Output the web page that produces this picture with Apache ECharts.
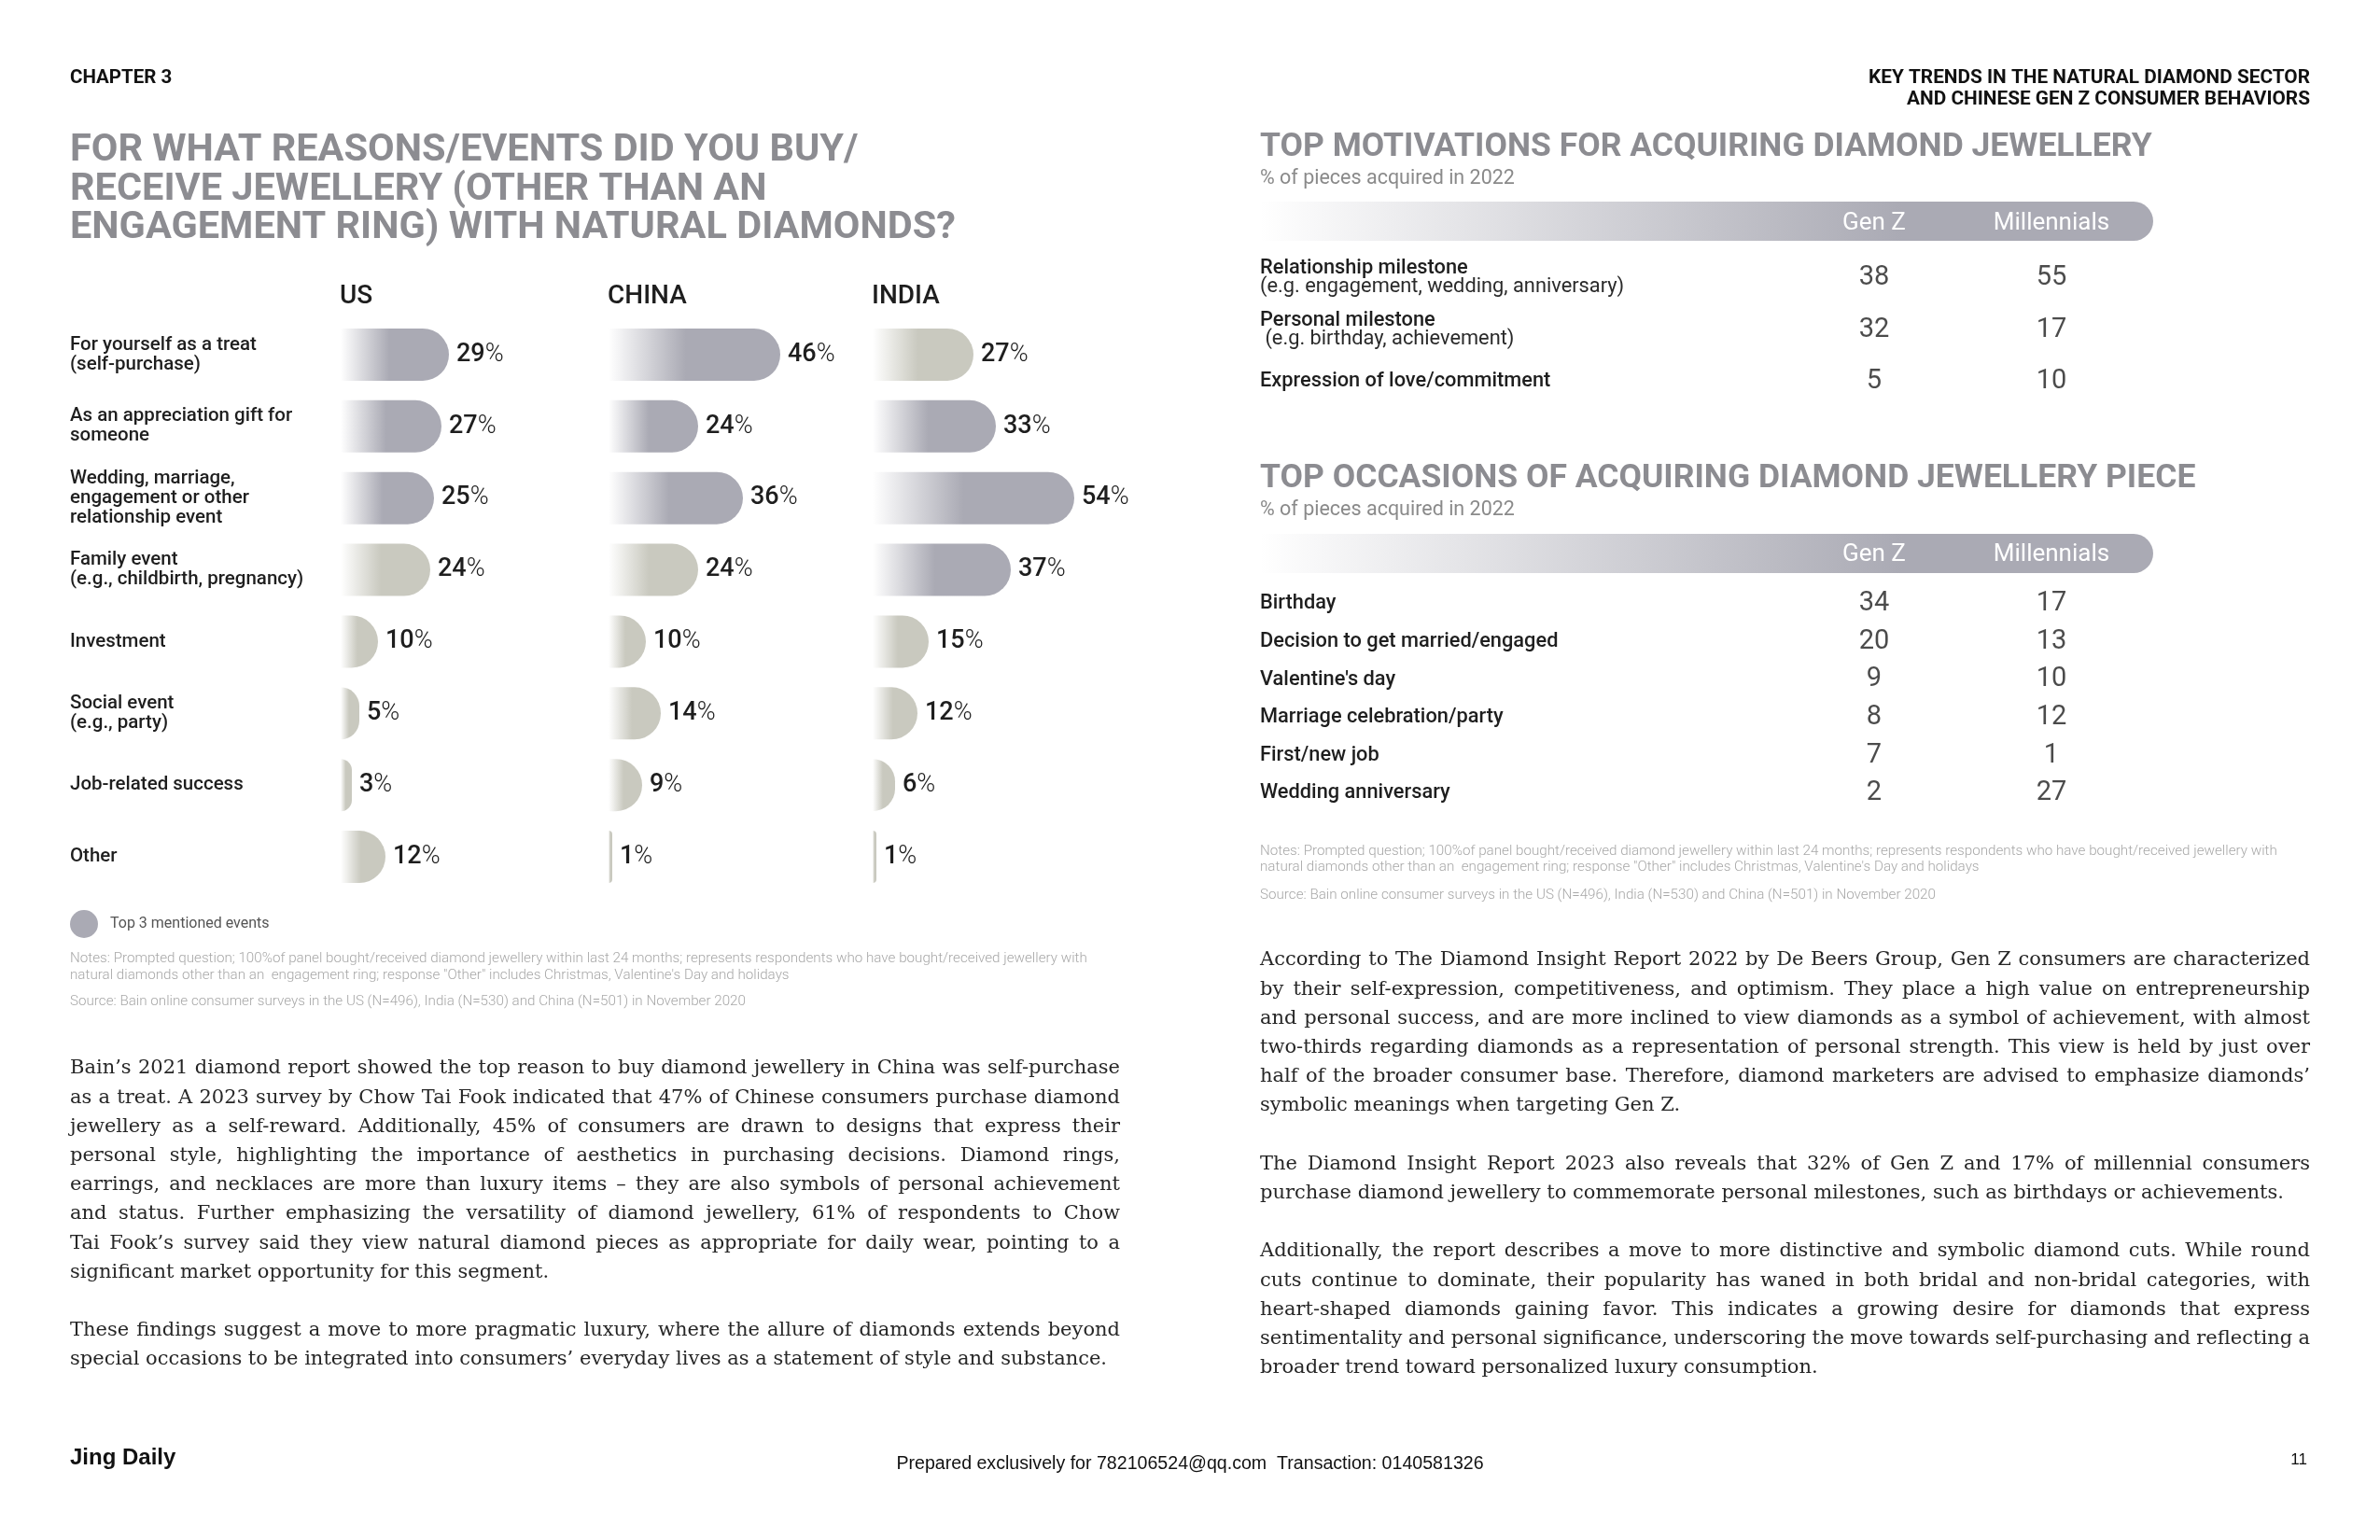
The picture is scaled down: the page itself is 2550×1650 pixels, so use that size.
<!DOCTYPE html>
<html>
<head>
<meta charset="utf-8">
<script src="https://cdn.jsdelivr.net/npm/echarts@6/dist/echarts.min.js"></script>
<style>html,body{margin:0;padding:0;background:#fff}#c{width:2550px;height:1650px}</style>
</head>
<body>
<div id="c"></div>
<script>
// ---------------- DATA ----------------
const countries = ['US', 'CHINA', 'INDIA'];
const categories = [
  'For yourself as a treat\n(self-purchase)',
  'As an appreciation gift for\nsomeone',
  'Wedding, marriage,\nengagement or other\nrelationship event',
  'Family event\n(e.g., childbirth, pregnancy)',
  'Investment',
  'Social event\n(e.g., party)',
  'Job-related success',
  'Other'
];
const usValues = [29, 27, 25, 24, 10, 5, 3, 12];
const chinaValues = [46, 24, 36, 24, 10, 14, 9, 1];
const indiaValues = [27, 33, 54, 37, 15, 12, 6, 1];
const usTop3 = [1, 1, 1, 0, 0, 0, 0, 0];
const chinaTop3 = [1, 1, 1, 0, 0, 0, 0, 0];
const indiaTop3 = [0, 1, 1, 1, 0, 0, 0, 0];

const tableColumns = ['Gen Z', 'Millennials'];
const motivationLabels = [
  'Relationship milestone\n(e.g. engagement, wedding, anniversary)',
  'Personal milestone\n (e.g. birthday, achievement)',
  'Expression of love/commitment'
];
const motivationGenZ = [38, 32, 5];
const motivationMillennials = [55, 17, 10];

const occasionLabels = ['Birthday', 'Decision to get married/engaged', "Valentine's day",
  'Marriage celebration/party', 'First/new job', 'Wedding anniversary'];
const occasionGenZ = [34, 20, 9, 8, 7, 2];
const occasionMillennials = [17, 13, 10, 12, 1, 27];

const leftParagraphs = [
  [
    'Bain’s 2021 diamond report showed the top reason to buy diamond jewellery in China was self-purchase',
    'as a treat. A 2023 survey by Chow Tai Fook indicated that 47% of Chinese consumers purchase diamond',
    'jewellery as a self-reward. Additionally, 45% of consumers are drawn to designs that express their',
    'personal style, highlighting the importance of aesthetics in purchasing decisions. Diamond rings,',
    'earrings, and necklaces are more than luxury items – they are also symbols of personal achievement',
    'and status. Further emphasizing the versatility of diamond jewellery, 61% of respondents to Chow',
    'Tai Fook’s survey said they view natural diamond pieces as appropriate for daily wear, pointing to a',
    'significant market opportunity for this segment.'
  ],
  [
    'These findings suggest a move to more pragmatic luxury, where the allure of diamonds extends beyond',
    'special occasions to be integrated into consumers’ everyday lives as a statement of style and substance.'
  ]
];
const rightParagraphs = [
  [
    'According to The Diamond Insight Report 2022 by De Beers Group, Gen Z consumers are characterized',
    'by their self-expression, competitiveness, and optimism. They place a high value on entrepreneurship',
    'and personal success, and are more inclined to view diamonds as a symbol of achievement, with almost',
    'two-thirds regarding diamonds as a representation of personal strength. This view is held by just over',
    'half of the broader consumer base. Therefore, diamond marketers are advised to emphasize diamonds’',
    'symbolic meanings when targeting Gen Z.'
  ],
  [
    'The Diamond Insight Report 2023 also reveals that 32% of Gen Z and 17% of millennial consumers',
    'purchase diamond jewellery to commemorate personal milestones, such as birthdays or achievements.'
  ],
  [
    'Additionally, the report describes a move to more distinctive and symbolic diamond cuts. While round',
    'cuts continue to dominate, their popularity has waned in both bridal and non-bridal categories, with',
    'heart-shaped diamonds gaining favor. This indicates a growing desire for diamonds that express',
    'sentimentality and personal significance, underscoring the move towards self-purchasing and reflecting a',
    'broader trend toward personalized luxury consumption.'
  ]
];
const notesLines = [
  'Notes: Prompted question; 100%of panel bought/received diamond jewellery within last 24 months; represents respondents who have bought/received jewellery with',
  'natural diamonds other than an  engagement ring; response "Other" includes Christmas, Valentine\'s Day and holidays'
];
const sourceLine = 'Source: Bain online consumer surveys in the US (N=496), India (N=530) and China (N=501) in November 2020';

// ---------------- STYLE ----------------
const SANS = 'Roboto, "Liberation Sans", sans-serif';
const SERIF = '"DejaVu Serif", "Liberation Serif", serif';
const PURPLE = '#aaaab4';
const BEIGE = '#c9c9bf';
const TITLE_GREY = '#8c8c91';

function barGradient(c) {
  return new echarts.graphic.LinearGradient(0, 0, 1, 0, [
    { offset: 0, color: '#ffffff' },
    { offset: 0.45, color: c },
    { offset: 1, color: c }
  ]);
}

const chart = echarts.init(document.getElementById('c'), null, { width: 2550, height: 1650 });

// bar chart grids
const barLefts = [365, 652, 935];
const barTop = 341.5, barH = 615, barW = 240;
const allValues = [usValues, chinaValues, indiaValues];
const allTop3 = [usTop3, chinaTop3, indiaTop3];

const grids = [], xAxes = [], yAxes = [], series = [];
barLefts.forEach((l, k) => {
  grids.push({ left: l, top: barTop, width: barW, height: barH, outerBoundsMode: 'none', containLabel: false });
  xAxes.push({ gridIndex: k, type: 'value', min: 0, max: 60, show: false });
  yAxes.push({
    gridIndex: k, type: 'category', data: categories, inverse: true,
    show: k === 0,
    axisLine: { show: false }, axisTick: { show: false }, splitLine: { show: false },
    axisLabel: {
      show: k === 0, interval: 0, margin: l - 75, align: 'left', verticalAlign: 'middle',
      fontFamily: SANS, fontSize: 20.5, fontWeight: 500, color: '#1e1e1e', lineHeight: 21
    }
  });
  series.push({
    type: 'bar', xAxisIndex: k, yAxisIndex: k, barWidth: 56, silent: true,
    data: allValues[k].map((v, i) => ({
      value: v,
      itemStyle: { color: barGradient(allTop3[k][i] ? PURPLE : BEIGE), borderRadius: [0, 28, 28, 0] }
    })),
    label: {
      show: true, position: 'right', distance: 8,
      formatter: '{n|{c}}{p|%}',
      rich: {
        n: { fontFamily: SANS, fontSize: 27, fontWeight: 500, color: '#1e1e1e' },
        p: { fontFamily: SANS, fontSize: 27, fontWeight: 300, color: '#1e1e1e' }
      }
    }
  });
});

// tables
function addTable(labels, a, b, top, height, headerMargin) {
  const gi = grids.length;
  grids.push({ left: 1913, top: top, width: 380, height: height, outerBoundsMode: 'none', containLabel: false });
  xAxes.push({
    gridIndex: gi, type: 'category', data: tableColumns, position: 'top', z: 20,
    axisLine: { show: false }, axisTick: { show: false }, splitLine: { show: false },
    axisLabel: { interval: 0, margin: headerMargin, verticalAlign: 'middle', color: '#ffffff',
      fontFamily: SANS, fontSize: 26, fontWeight: 400 }
  });
  yAxes.push({
    gridIndex: gi, type: 'category', data: labels, inverse: true,
    axisLine: { show: false }, axisTick: { show: false }, splitLine: { show: false },
    axisLabel: {
      interval: 0, margin: 1913 - 1350, align: 'left', verticalAlign: 'middle',
      formatter: (s) => {
        const parts = s.split('\n');
        return parts.length > 1 ? '{a|' + parts[0] + '}\n{b|' + parts[1] + '}' : '{a|' + s + '}';
      },
      rich: {
        a: { fontFamily: SANS, fontSize: 21.8, fontWeight: 500, color: '#1e1e1e', lineHeight: 20 },
        b: { fontFamily: SANS, fontSize: 21.8, fontWeight: 400, color: '#2a2a2a', lineHeight: 20 }
      }
    }
  });
  [a, b].forEach((vals, col) => {
    series.push({
      type: 'scatter', xAxisIndex: gi, yAxisIndex: gi, symbolSize: 1, silent: true,
      itemStyle: { color: 'rgba(0,0,0,0)' },
      data: vals.map((v, i) => [col, i, v]),
      label: { show: true, position: 'inside', formatter: (p) => String(p.value[2]),
        fontFamily: SANS, fontSize: 29, fontWeight: 400, color: '#1e1e1e' }
    });
  });
}
addTable(motivationLabels, motivationGenZ, motivationMillennials, 270, 166.5, 31);
addTable(occasionLabels, occasionGenZ, occasionMillennials, 626.7, 243.6, 32);

// ---------------- TEXT / DECORATION ----------------
const g = [];
function txt(x, y, text, font, fill, align, sx) {
  const el = { type: 'text', x: x, y: y, silent: true,
    style: { text: text, font: font, fill: fill, textAlign: align || 'left', textVerticalAlign: 'middle' } };
  if (sx && sx !== 1) { el.scaleX = sx; el.originX = 0; el.originY = 0; }
  g.push(el);
}
const measureCtx = document.createElement('canvas').getContext('2d');
function justify(paragraphs, x, y0, width, lineH, font, fill) {
  measureCtx.font = font;
  let y = y0;
  paragraphs.forEach((lines) => {
    lines.forEach((line, li) => {
      const words = line.split(' ');
      let ws = words.map(w => measureCtx.measureText(w).width);
      const spaceW = measureCtx.measureText(' ').width;
      let total = ws.reduce((s, v) => s + v, 0);
      const last = li === lines.length - 1;
      let sx = 1;
      const minGap = spaceW * 0.8;
      if (total + minGap * (words.length - 1) > width) {
        sx = width / (total + minGap * (words.length - 1));
        ws = ws.map(w => w * sx);
        total *= sx;
      }
      const gap = last ? (sx < 1 ? minGap * sx : spaceW) : (width - total) / (words.length - 1);
      let cx = x;
      words.forEach((w, j) => { txt(cx, y, w, font, fill, 'left', sx); cx += ws[j] + gap; });
      y += lineH;
    });
    y += lineH;
  });
}

// headers
txt(75, 84, 'CHAPTER 3', 'bold 20.5px ' + SANS, '#111');
txt(2475, 84, 'KEY TRENDS IN THE NATURAL DIAMOND SECTOR', 'bold 20.8px ' + SANS, '#111', 'right');
txt(2475, 107, 'AND CHINESE GEN Z CONSUMER BEHAVIORS', 'bold 20.8px ' + SANS, '#111', 'right');

// left title
['FOR WHAT REASONS/EVENTS DID YOU BUY/', 'RECEIVE JEWELLERY (OTHER THAN AN', 'ENGAGEMENT RING) WITH NATURAL DIAMONDS?']
  .forEach((t, i) => txt(75, 162 + i * 41.5, t, 'bold 41.5px ' + SANS, TITLE_GREY));

// country headers
countries.forEach((c, i) => txt(barLefts[i] - 1, 318, c, '500 28px ' + SANS, '#1e1e1e'));

// legend
g.push({ type: 'circle', silent: true, shape: { cx: 90, cy: 990, r: 15 }, style: { fill: PURPLE } });
txt(118, 990, 'Top 3 mentioned events', '400 16px ' + SANS, '#555');

// left notes
const NOTE_FONT = '300 15.2px ' + SANS;
txt(75, 1027, notesLines[0], NOTE_FONT, '#a8a8a8');
txt(75, 1045, notesLines[1], NOTE_FONT, '#a8a8a8');
txt(75, 1073, sourceLine, NOTE_FONT, '#a8a8a8');

// right titles and pills
[['TOP MOTIVATIONS FOR ACQUIRING DIAMOND JEWELLERY', 158, 192, 216],
 ['TOP OCCASIONS OF ACQUIRING DIAMOND JEWELLERY PIECE', 513, 547, 572]].forEach(r => {
  txt(1350, r[1], r[0], 'bold 35.5px ' + SANS, TITLE_GREY);
  txt(1350, r[2], '% of pieces acquired in 2022', '400 21.5px ' + SANS, '#8a8a8a');
  g.push({ type: 'rect', silent: true, z: 0,
    shape: { x: 1350, y: r[3], width: 957, height: 42, r: [4, 21, 21, 4] },
    style: { fill: new echarts.graphic.LinearGradient(0, 0, 1, 0, [
      { offset: 0, color: '#ffffff' }, { offset: 0.72, color: PURPLE }, { offset: 1, color: PURPLE }]) } });
});

// right notes
txt(1350, 912, notesLines[0], NOTE_FONT, '#a8a8a8');
txt(1350, 929, notesLines[1], NOTE_FONT, '#a8a8a8');
txt(1350, 959, sourceLine, NOTE_FONT, '#a8a8a8');

// body text
justify(leftParagraphs, 75, 1145, 1125, 31.2, '21px ' + SERIF, '#262626');
justify(rightParagraphs, 1350, 1029, 1125, 31.2, '21px ' + SERIF, '#262626');

// footer
txt(75, 1562, 'Jing Daily', 'bold 24px "Liberation Sans", Arial, sans-serif', '#111');
txt(1275, 1569, 'Prepared exclusively for 782106524@qq.com  Transaction: 0140581326', '19.6px "Liberation Sans", Arial, sans-serif', '#111', 'center');
txt(2472, 1564, '11', '17px "Liberation Sans", Arial, sans-serif', '#111', 'right');

chart.setOption({
  backgroundColor: '#ffffff',
  animation: false,
  grid: grids,
  xAxis: xAxes,
  yAxis: yAxes,
  series: series,
  graphic: { elements: g }
});
</script>
</body>
</html>
